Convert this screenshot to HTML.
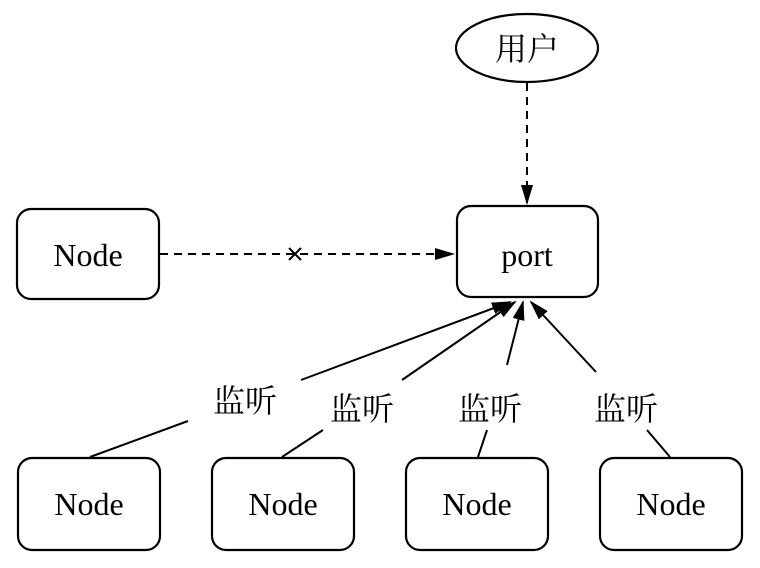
<!DOCTYPE html>
<html><head><meta charset="utf-8"><style>
html,body{margin:0;padding:0;background:#fff;}
svg{display:block;}
text{font-family:"Liberation Serif","Noto Serif CJK SC",serif;fill:#000;}
</style></head><body>
<svg width="760" height="568" viewBox="0 0 760 568" xmlns="http://www.w3.org/2000/svg">
<defs>
<marker id="a" markerWidth="20" markerHeight="12" refX="18" refY="6" orient="auto" markerUnits="userSpaceOnUse">
<path d="M0,0 L20,6 L0,12 z" fill="#000"/></marker>
</defs>
<g fill="none" stroke="#000" stroke-width="2.2">
<ellipse cx="527" cy="48" rx="71" ry="34"/>
<rect x="457" y="206" width="141" height="91" rx="14"/>
<rect x="17" y="209" width="142" height="90" rx="14"/>
<rect x="18" y="458" width="142" height="92" rx="14"/>
<rect x="212" y="458" width="142" height="92" rx="14"/>
<rect x="406" y="458" width="142" height="92" rx="14"/>
<rect x="600" y="458" width="142" height="92" rx="14"/>
</g>
<g stroke="#000" stroke-width="2" fill="none">
<line x1="527" y1="83" x2="527" y2="203" stroke-dasharray="8,6" marker-end="url(#a)"/>
<line x1="160" y1="254" x2="453" y2="254" stroke-dasharray="8,6" marker-end="url(#a)"/>
<line x1="289" y1="248" x2="301" y2="260"/><line x1="301" y1="248" x2="289" y2="260"/>
<line x1="90" y1="457" x2="188" y2="421"/>
<line x1="301" y1="380" x2="510" y2="302" marker-end="url(#a)"/>
<line x1="282" y1="457" x2="323" y2="430"/>
<line x1="402" y1="380" x2="515" y2="302" marker-end="url(#a)"/>
<line x1="478" y1="457" x2="487" y2="430"/>
<line x1="507" y1="365" x2="523" y2="302" marker-end="url(#a)"/>
<line x1="670" y1="457" x2="647" y2="430"/>
<line x1="596" y1="372" x2="531" y2="302" marker-end="url(#a)"/>
</g>
<g font-size="32" text-anchor="middle">
<text x="527" y="60">用户</text>
<text x="527" y="266">port</text>
<text x="88" y="266">Node</text>
<text x="89" y="515">Node</text>
<text x="283" y="515">Node</text>
<text x="477" y="515">Node</text>
<text x="671" y="515">Node</text>
<text x="245" y="412">监听</text>
<text x="362" y="420">监听</text>
<text x="490" y="420">监听</text>
<text x="626" y="420">监听</text>
</g>
</svg>
</body></html>
